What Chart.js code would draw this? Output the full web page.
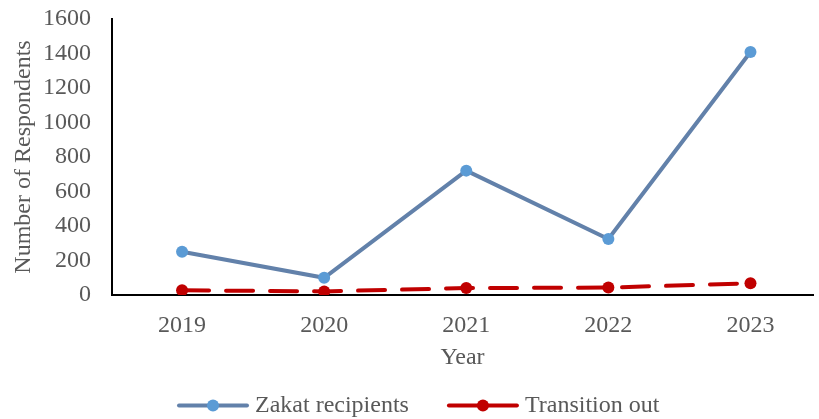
<!DOCTYPE html>
<html>
<head>
<meta charset="utf-8">
<script src="https://cdn.jsdelivr.net/npm/chart.js@4.4.0/dist/chart.umd.min.js"></script>
<style>
  html, body { margin: 0; padding: 0; background: #fff; }
  #wrap { width: 819px; height: 419px; }
</style>
</head>
<body>
<div id="wrap"><canvas id="lineChart"></canvas></div>
<script>
// chart data
const years = ['2019', '2020', '2021', '2022', '2023'];
const zakatRecipients = [251, 100, 721, 325, 1409];
const transitionOut = [27, 21, 40, 43, 68];
const yTicks = [0, 200, 400, 600, 800, 1000, 1200, 1400, 1600];
const seriesNames = ['Zakat recipients', 'Transition out'];

const FONT = "'Liberation Serif', 'Times New Roman', serif";
const TEXT = '#595959';
const BLUE_LINE = '#6281AA';
const BLUE_DOT = '#5B9BD5';
const RED = '#C00000';

// excel style legend: line with a dot in the middle, then the label
const bottomLegend = {
    id: 'bottomLegend',
    afterDraw(chart) {
        const ctx = chart.ctx;
        const y = 405.5;
        const swatchW = 70;
        ctx.save();
        ctx.font = '24px ' + FONT;
        ctx.textBaseline = 'middle';
        ctx.textAlign = 'left';
        let x = 178;
        chart.data.datasets.forEach((ds, i) => {
            ctx.strokeStyle = ds.borderColor;
            ctx.lineWidth = 4;
            ctx.lineCap = 'round';
            ctx.beginPath();
            ctx.moveTo(x + 1, y);
            ctx.lineTo(x + swatchW - 1, y);
            ctx.stroke();
            ctx.fillStyle = ds.pointBackgroundColor;
            ctx.beginPath();
            ctx.arc(x + swatchW / 2, y, 6, 0, Math.PI * 2);
            ctx.fill();
            ctx.fillStyle = TEXT;
            ctx.fillText(ds.label, x + swatchW + 7, y);
            x += swatchW + 7 + ctx.measureText(ds.label).width + 39;
        });
        ctx.restore();
    }
};

new Chart(document.getElementById('lineChart'), {
    type: 'line',
    data: {
        datasets: [{
            label: seriesNames[0],
            data: years.map((y, i) => ({ x: Number(y), y: zakatRecipients[i] })),
            borderColor: BLUE_LINE,
            backgroundColor: BLUE_DOT,
            pointBackgroundColor: BLUE_DOT,
            pointBorderColor: BLUE_DOT,
            borderWidth: 4,
            pointRadius: 6,
            pointBorderWidth: 0,
            tension: 0
        }, {
            label: seriesNames[1],
            data: years.map((y, i) => ({ x: Number(y), y: transitionOut[i] })),
            borderColor: RED,
            backgroundColor: RED,
            pointBackgroundColor: RED,
            pointBorderColor: RED,
            borderWidth: 4,
            borderDash: [27, 17],
            borderCapStyle: 'round',
            pointRadius: 6,
            pointBorderWidth: 0,
            tension: 0
        }]
    },
    plugins: [bottomLegend],
    options: {
        responsive: true,
        maintainAspectRatio: false,
        animation: false,
        layout: { padding: { top: 19, right: 1, left: 0, bottom: 0 } },
        plugins: {
            legend: { display: false },
            tooltip: { enabled: false }
        },
        scales: {
            x: {
                type: 'linear',
                min: 2018.507,
                max: 2023.44,
                grid: { display: false, drawTicks: false },
                border: { display: true, color: '#000', width: 2 },
                afterBuildTicks(scale) {
                    scale.ticks = years.map(y => ({ value: Number(y) }));
                },
                ticks: {
                    padding: 16,
                    autoSkip: false,
                    maxRotation: 0,
                    color: TEXT,
                    font: { family: FONT, size: 24 },
                    callback: v => String(v)
                },
                title: {
                    display: true,
                    text: 'Year',
                    color: TEXT,
                    font: { family: FONT, size: 24 },
                    padding: { top: 0, bottom: 47 }
                },
                afterFit(scale) {
                    scale.height = 124;
                    scale.paddingLeft = 0;
                    scale.paddingRight = 0;
                }
            },
            y: {
                min: 0,
                max: 1600,
                grid: { display: false, drawTicks: false },
                border: { display: true, color: '#000', width: 2 },
                afterBuildTicks(scale) {
                    scale.ticks = yTicks.map(v => ({ value: v }));
                },
                ticks: {
                    padding: 21,
                    autoSkip: false,
                    color: TEXT,
                    font: { family: FONT, size: 24 },
                    callback: v => String(v)
                },
                title: {
                    display: true,
                    text: 'Number of Respondents',
                    color: TEXT,
                    font: { family: FONT, size: 24 },
                    padding: { top: 9, bottom: 0 }
                },
                afterFit(scale) {
                    scale.width = 112;
                    scale.paddingTop = 0;
                    scale.paddingBottom = 0;
                }
            }
        }
    }
});
</script>
</body>
</html>
